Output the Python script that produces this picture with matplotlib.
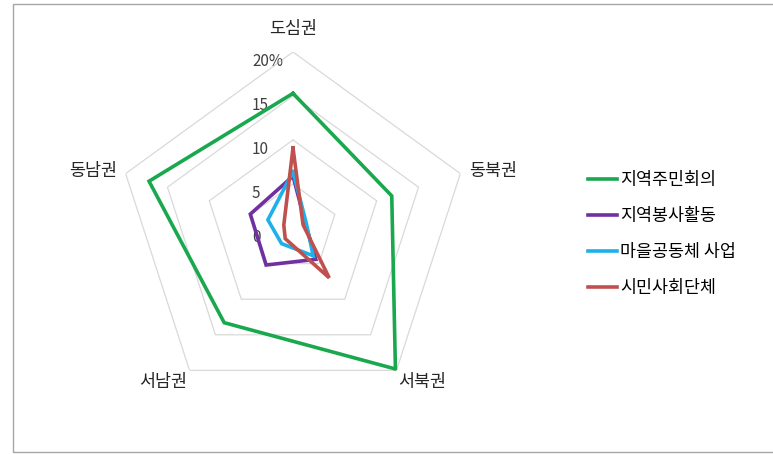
import numpy as np
import matplotlib
matplotlib.use('Agg')
import matplotlib.pyplot as plt
from matplotlib.patches import Rectangle

plt.rcParams['font.family'] = ['Noto Sans CJK KR', 'DejaVu Sans']

regions = ['도심권', '동북권', '서북권', '서남권', '동남권']
resident_council = [15.3, 11.8, 19.8, 13.3, 17.2]
volunteer = [5.9, 1.5, 4.4, 5.2, 5.1]
community = [6.4, 1.6, 3.9, 2.2, 3.0]
civic_groups = [9.1, 1.2, 7.0, 1.5, 1.1]
series_names = ['지역주민회의', '지역봉사활동', '마을공동체 사업', '시민사회단체']
series_colors = ['#1aa84f', '#7030a0', '#1eb0e8', '#c0504d']
ticks = [0, 5, 10, 15, 20]
tick_labels = ['0', '5', '10', '15', '20%']

W, H = 773, 454
fig = plt.figure(figsize=(W / 100, H / 100), dpi=100)
fig.patches.append(Rectangle((13 / W, 2 / H), 1.0, 1 - 6 / H, transform=fig.transFigure,
                             fill=False, edgecolor='#a6a6a6', linewidth=1))

cx, cy, R = 293, 228, 176
ax = fig.add_axes([(cx - R) / W, (H - cy - R) / H, 2 * R / W, 2 * R / H], projection='polar')
ax.set_theta_offset(np.pi / 2)
ax.set_theta_direction(-1)
ax.set_ylim(0, 20)
ax.grid(False)
ax.spines['polar'].set_visible(False)
ax.set_xticks([])
ax.set_yticks([])
ax.patch.set_alpha(0)

theta = np.linspace(0, 2 * np.pi, len(regions), endpoint=False)
theta_c = np.append(theta, theta[0])

# pentagon gridlines
for t in ticks[1:]:
    ax.plot(theta_c, [t] * len(theta_c), color='#d9d9d9', lw=0.9, zorder=1)

for t, lab in zip(ticks, tick_labels):
    ax.annotate(lab, xy=(0, t), xytext=(-41, -1), textcoords='offset pixels',
                ha='left', va='top', fontsize=11, color='#404040')

all_series = [resident_council, volunteer, community, civic_groups]
for vals, name, col in zip(all_series, series_names, series_colors):
    v = np.append(vals, vals[0])
    ax.plot(theta_c, v, color=col, lw=2.6, label=name, zorder=3, solid_joinstyle='miter')

label_pos = [(21.6, 'center', 'bottom'), (21.0, 'left', 'center'), (20.4, 'left', 'top'),
             (20.4, 'right', 'top'), (21.0, 'right', 'center')]
for th, name, (r, ha, va) in zip(theta, regions, label_pos):
    ax.text(th, r, name, ha=ha, va=va, fontsize=12.5, color='#262626')

fig.legend(loc='upper left', bbox_to_anchor=(572 / W, 1 - 155 / H), frameon=False,
           fontsize=12.5, handlelength=1.7, handletextpad=0.15, labelspacing=1.05)

fig.savefig('out.png', dpi=100)
